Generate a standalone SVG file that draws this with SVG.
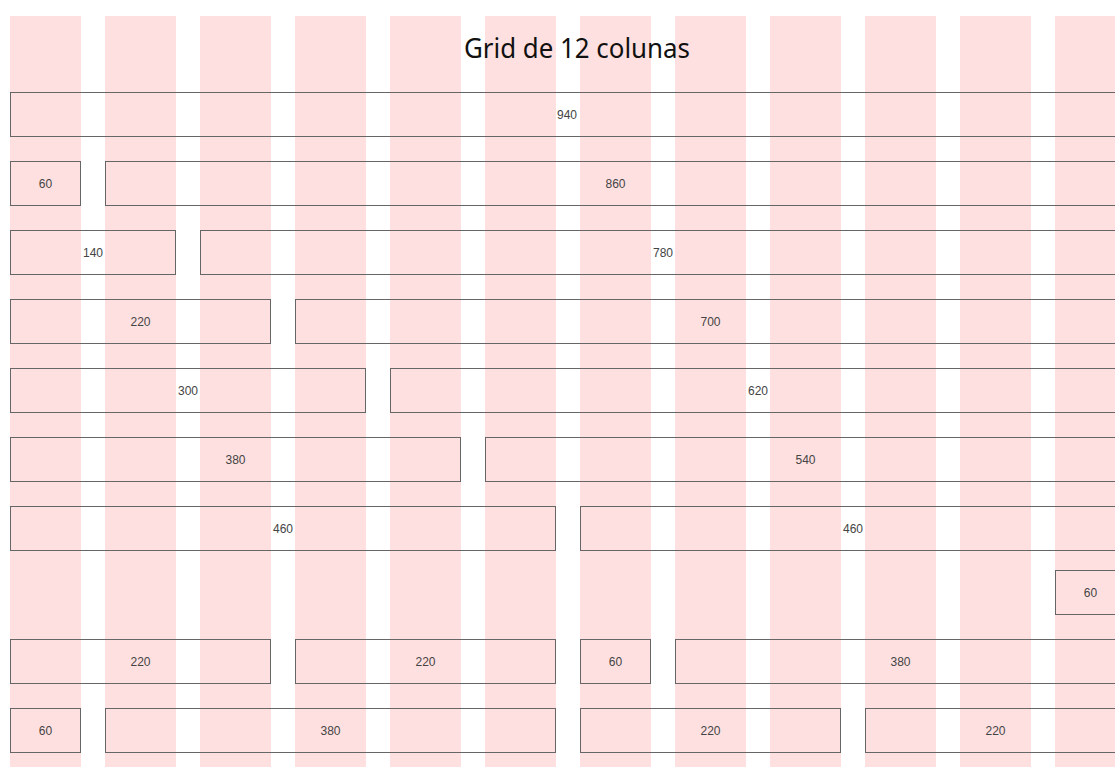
<svg xmlns="http://www.w3.org/2000/svg" width="1115" height="767" viewBox="0 0 1115 767">
<style>
.col{fill:#ffe0e0}
.box rect{fill:none;stroke:#666;stroke-width:1}
.box text{font-family:"Liberation Sans",Arial,sans-serif;font-size:12px;fill:#444;text-anchor:middle;dominant-baseline:central}
.title{font-family:"Noto Sans","Open Sans",sans-serif;font-size:27px;fill:#111;text-anchor:middle}
</style>
<rect width="1115" height="767" fill="#fff"/>
<g id="columns">
<rect class="col" x="10" y="16" width="71" height="751"/>
<rect class="col" x="105" y="16" width="71" height="751"/>
<rect class="col" x="200" y="16" width="71" height="751"/>
<rect class="col" x="295" y="16" width="71" height="751"/>
<rect class="col" x="390" y="16" width="71" height="751"/>
<rect class="col" x="485" y="16" width="71" height="751"/>
<rect class="col" x="580" y="16" width="71" height="751"/>
<rect class="col" x="675" y="16" width="71" height="751"/>
<rect class="col" x="770" y="16" width="71" height="751"/>
<rect class="col" x="865" y="16" width="71" height="751"/>
<rect class="col" x="960" y="16" width="71" height="751"/>
<rect class="col" x="1055" y="16" width="71" height="751"/>
</g>
<text id="title" class="title" x="577" y="58" textLength="226" lengthAdjust="spacingAndGlyphs">Grid de 12 colunas</text>
<g id="connectors"></g>
<g id="r1-940" class="box"><rect x="10.5" y="92.5" width="1115" height="44"/><text x="567" y="115">940</text></g>
<g id="r2-60" class="box"><rect x="10.5" y="161.5" width="70" height="44"/><text x="45.5" y="184">60</text></g>
<g id="r2-860" class="box"><rect x="105.5" y="161.5" width="1020" height="44"/><text x="615.5" y="184">860</text></g>
<g id="r3-140" class="box"><rect x="10.5" y="230.5" width="165" height="44"/><text x="93" y="253">140</text></g>
<g id="r3-780" class="box"><rect x="200.5" y="230.5" width="925" height="44"/><text x="663" y="253">780</text></g>
<g id="r4-220" class="box"><rect x="10.5" y="299.5" width="260" height="44"/><text x="140.5" y="322">220</text></g>
<g id="r4-700" class="box"><rect x="295.5" y="299.5" width="830" height="44"/><text x="710.5" y="322">700</text></g>
<g id="r5-300" class="box"><rect x="10.5" y="368.5" width="355" height="44"/><text x="188" y="391">300</text></g>
<g id="r5-620" class="box"><rect x="390.5" y="368.5" width="735" height="44"/><text x="758" y="391">620</text></g>
<g id="r6-380" class="box"><rect x="10.5" y="437.5" width="450" height="44"/><text x="235.5" y="460">380</text></g>
<g id="r6-540" class="box"><rect x="485.5" y="437.5" width="640" height="44"/><text x="805.5" y="460">540</text></g>
<g id="r7-460a" class="box"><rect x="10.5" y="506.5" width="545" height="44"/><text x="283" y="529">460</text></g>
<g id="r7-460b" class="box"><rect x="580.5" y="506.5" width="545" height="44"/><text x="853" y="529">460</text></g>
<g id="r8-60" class="box"><rect x="1055.5" y="570.5" width="70" height="44"/><text x="1090.5" y="593">60</text></g>
<g id="r9-220a" class="box"><rect x="10.5" y="639.5" width="260" height="44"/><text x="140.5" y="662">220</text></g>
<g id="r9-220b" class="box"><rect x="295.5" y="639.5" width="260" height="44"/><text x="425.5" y="662">220</text></g>
<g id="r9-60" class="box"><rect x="580.5" y="639.5" width="70" height="44"/><text x="615.5" y="662">60</text></g>
<g id="r9-380" class="box"><rect x="675.5" y="639.5" width="450" height="44"/><text x="900.5" y="662">380</text></g>
<g id="r10-60" class="box"><rect x="10.5" y="708.5" width="70" height="44"/><text x="45.5" y="731">60</text></g>
<g id="r10-380" class="box"><rect x="105.5" y="708.5" width="450" height="44"/><text x="330.5" y="731">380</text></g>
<g id="r10-220a" class="box"><rect x="580.5" y="708.5" width="260" height="44"/><text x="710.5" y="731">220</text></g>
<g id="r10-220b" class="box"><rect x="865.5" y="708.5" width="260" height="44"/><text x="995.5" y="731">220</text></g>
</svg>
